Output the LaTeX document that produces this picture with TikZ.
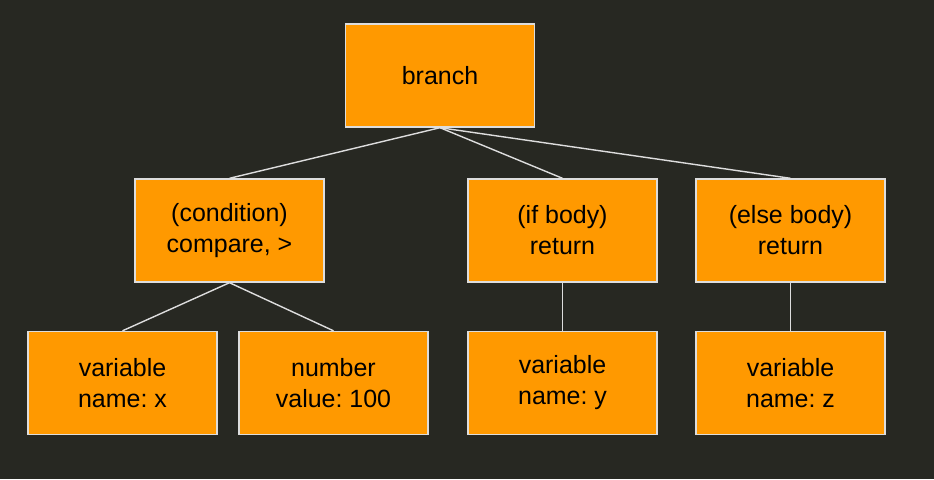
\documentclass[tikz,border=0pt]{standalone}
\usepackage{fontspec}
\setmainfont{Liberation Sans}
\usetikzlibrary{positioning}
\definecolor{bgdark}{HTML}{272822}
\definecolor{nodefill}{HTML}{FF9900}
\definecolor{frameline}{HTML}{DDDDDD}
\frenchspacing

\begin{document}
\begin{tikzpicture}[
  box/.style={draw=frameline,fill=nodefill,line width=0.8pt,align=center,
    minimum width=3.78cm,minimum height=2.06cm,inner sep=0pt,
    font=\fontsize{14.2}{17.6}\selectfont},
  edge/.style={draw=frameline,line width=0.8pt}
]
\fill[bgdark] (0,0) rectangle (18.68,-9.58);
\useasboundingbox (0,0) rectangle (18.68,-9.58);
% top level
\node[box] (branch) at (8.8,-1.51) {branch};
% second level
\node[box] (cond) at (4.59,-4.61) {(condition)\\compare, >};
\node[box] (ifbody) at (11.25,-4.61) {(if body)\\return};
\node[box] (elsebody) at (15.81,-4.61) {(else body)\\return};
% leaves
\node[box] (varx) at (2.45,-7.66) {variable\\name: x};
\node[box] (num) at (6.67,-7.66) {number\\value: 100};
\node[box] (vary) at (11.25,-7.66) {variable\\name: y};
\node[box] (varz) at (15.81,-7.66) {variable\\name: z};
\draw[edge] (branch.south) -- (cond.north);
\draw[edge] (branch.south) -- (ifbody.north);
\draw[edge] (branch.south) -- (elsebody.north);
\draw[edge] (cond.south) -- (varx.north);
\draw[edge] (cond.south) -- (num.north);
\draw[edge] (ifbody.south) -- (vary.north);
\draw[edge] (elsebody.south) -- (varz.north);
\end{tikzpicture}
\end{document}
